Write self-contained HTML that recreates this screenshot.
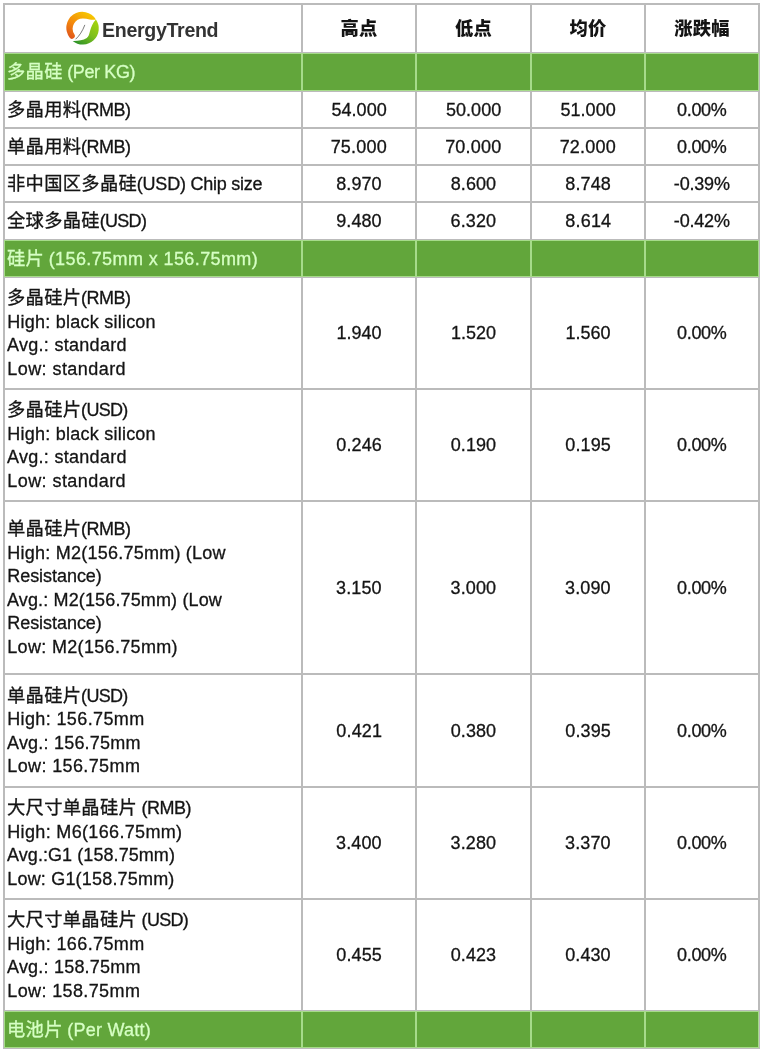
<!DOCTYPE html>
<html lang="zh-CN">
<head>
<meta charset="utf-8">
<title>EnergyTrend 价格表</title>
<style>
html,body{margin:0;padding:0;background:#fff;}
body{width:763px;height:1052px;overflow:hidden;position:relative;
  font-family:"Liberation Sans","Noto Sans CJK SC",sans-serif;font-size:18px;color:#141414;}
table{position:absolute;left:3px;top:3px;width:757px;border-collapse:separate;border-spacing:0;
  border:1px solid #bbb;table-layout:fixed;}
td{border:1px solid #bbb;padding:0;box-sizing:border-box;vertical-align:middle;overflow:hidden;}
td.n{text-align:center;}
td.t{padding-left:2px;text-align:left;}
tr.g td{background:#62a63b;border-color:#a6db8a;color:#d6ffc4;}
tr.h td{text-align:center;font-weight:900;}
tr.h .c{position:relative;top:1px;}
.l{-webkit-text-stroke:0.3px;display:block;height:23.5px;line-height:23.5px;white-space:pre;position:relative;top:1px;}
.w{display:inline-block;text-align:left;white-space:pre;}
.c{font-size:18.3px;letter-spacing:0.3px;line-height:0;}
.logo{display:block;position:relative;height:47px;}
.logo svg{position:absolute;left:55px;top:3px;}
.logo b{position:absolute;left:97px;top:13px;font:bold 19.6px/24px "Liberation Sans",sans-serif;letter-spacing:-0.32px;color:#333;}
</style>
</head>
<body>
<table>
<colgroup><col style="width:298px"><col style="width:114px"><col style="width:115px"><col style="width:114px"><col style="width:114px"></colgroup>
<tr class="h" style="height:49px"><td><span class="logo"><svg width="50" height="44" viewBox="0 0 763 671">
<defs>
<linearGradient id="og" gradientUnits="userSpaceOnUse" x1="420" y1="60" x2="150" y2="450"><stop offset="0" stop-color="#f6c400"/><stop offset="0.55" stop-color="#f48a0c"/><stop offset="1" stop-color="#e0561c"/></linearGradient>
<linearGradient id="gg" gradientUnits="userSpaceOnUse" x1="540" y1="170" x2="260" y2="540"><stop offset="0" stop-color="#a6d40e"/><stop offset="0.5" stop-color="#7cbf1c"/><stop offset="1" stop-color="#2f9428"/></linearGradient>
</defs>
<g transform="translate(350,316) scale(0.975) translate(-345,-305)"><path fill="url(#og)" d="M135.3 441.2A250 250 0 1 1 548 160C520 170 480 167 450 160C415 152 380 145 345 145A160 160 0 0 0 210.8 392.1A45 45 0 0 1 135.3 441.2Z"/>
<path fill="url(#gg)" d="M548 160A250 250 0 0 1 184 496C265 498 345 488 405 450C465 412 440 275 548 160Z"/>
<path fill="none" stroke="#444" stroke-width="11" d="M230 470Q320 390 375 245"/></g>
</svg><b>EnergyTrend</b></span></td><td><span class="c">高点</span></td><td><span class="c">低点</span></td><td><span class="c">均价</span></td><td><span class="c">涨跌幅</span></td></tr>
<tr class="g" style="height:38px"><td class="t"><span class="l"><span class="c">多晶硅</span><span style="letter-spacing:-0.39px;margin-left:-0.11px"> (Per KG)</span></span></td><td></td><td></td><td></td><td></td></tr>
<tr style="height:37px"><td class="t"><span class="l"><span class="c">多晶用料</span><span style="letter-spacing:-0.5px;margin-left:-0.25px">(RMB)</span></span></td><td class="n"><span class="l"><span class="w" style="width:56.20px"><span style="letter-spacing:0.05px;margin-left:0.5px">54.000</span></span></span></td><td class="n"><span class="l"><span class="w" style="width:56.20px"><span style="letter-spacing:0.05px;margin-left:0.5px">50.000</span></span></span></td><td class="n"><span class="l"><span class="w" style="width:56.20px"><span style="letter-spacing:0.05px;margin-left:0.5px">51.000</span></span></span></td><td class="n"><span class="l"><span class="w" style="width:50.48px"><span style="letter-spacing:-0.31px;margin-left:0.25px">0.00%</span></span></span></td></tr>
<tr style="height:37px"><td class="t"><span class="l"><span class="c">单晶用料</span><span style="letter-spacing:-0.5px;margin-left:-0.25px">(RMB)</span></span></td><td class="n"><span class="l"><span class="w" style="width:56.20px"><span style="letter-spacing:0.2px;margin-left:-0.25px">75.000</span></span></span></td><td class="n"><span class="l"><span class="w" style="width:56.20px"><span style="letter-spacing:0.2px;margin-left:-0.25px">70.000</span></span></span></td><td class="n"><span class="l"><span class="w" style="width:56.20px"><span style="letter-spacing:0.2px;margin-left:-0.25px">72.000</span></span></span></td><td class="n"><span class="l"><span class="w" style="width:50.48px"><span style="letter-spacing:-0.31px;margin-left:0.25px">0.00%</span></span></span></td></tr>
<tr style="height:37px"><td class="t"><span class="l"><span class="c">非中国区多晶硅</span><span style="letter-spacing:-0.23px;margin-left:-0.25px">(USD) Chip size</span></span></td><td class="n"><span class="l"><span class="w" style="width:45.91px"><span style="letter-spacing:0.06px;margin-left:0.25px">8.970</span></span></span></td><td class="n"><span class="l"><span class="w" style="width:45.91px"><span style="letter-spacing:0.06px;margin-left:0.25px">8.600</span></span></span></td><td class="n"><span class="l"><span class="w" style="width:45.91px"><span style="letter-spacing:0.12px;margin-left:0.25px">8.748</span></span></span></td><td class="n"><span class="l"><span class="w" style="width:56.28px"><span style="letter-spacing:-0.2px">-0.39%</span></span></span></td></tr>
<tr style="height:38px"><td class="t"><span class="l"><span class="c">全球多晶硅</span><span style="letter-spacing:-0.69px;margin-left:-0.25px">(USD)</span></span></td><td class="n"><span class="l"><span class="w" style="width:45.91px"><span style="letter-spacing:0.06px;margin-left:0.25px">9.480</span></span></span></td><td class="n"><span class="l"><span class="w" style="width:45.91px"><span style="letter-spacing:0.12px">6.320</span></span></span></td><td class="n"><span class="l"><span class="w" style="width:45.91px"><span style="letter-spacing:0.19px;margin-left:0.25px">8.614</span></span></span></td><td class="n"><span class="l"><span class="w" style="width:56.28px"><span style="letter-spacing:-0.2px">-0.42%</span></span></span></td></tr>
<tr class="g" style="height:37px"><td class="t"><span class="l"><span class="c">硅片</span><span style="letter-spacing:0.4px;margin-left:-0.9px"> (156.75mm x 156.75mm)</span></span></td><td></td><td></td><td></td><td></td></tr>
<tr style="height:112px"><td class="t"><span class="l"><span class="c">多晶硅片</span><span style="letter-spacing:-0.5px;margin-left:-0.25px">(RMB)</span></span><span class="l"><span style="letter-spacing:0.24px;margin-left:0.25px">High: black silicon</span></span><span class="l"><span style="letter-spacing:0.29px">Avg.: standard</span></span><span class="l"><span style="letter-spacing:0.44px;margin-left:0.25px">Low: standard</span></span></td><td class="n"><span class="l"><span class="w" style="width:45.91px"><span style="margin-left:0.5px">1.940</span></span></span></td><td class="n"><span class="l"><span class="w" style="width:45.91px"><span style="margin-left:0.5px">1.520</span></span></span></td><td class="n"><span class="l"><span class="w" style="width:45.91px"><span style="margin-left:0.5px">1.560</span></span></span></td><td class="n"><span class="l"><span class="w" style="width:50.48px"><span style="letter-spacing:-0.31px;margin-left:0.25px">0.00%</span></span></span></td></tr>
<tr style="height:112px"><td class="t"><span class="l"><span class="c">多晶硅片</span><span style="letter-spacing:-0.69px;margin-left:-0.25px">(USD)</span></span><span class="l"><span style="letter-spacing:0.24px;margin-left:0.25px">High: black silicon</span></span><span class="l"><span style="letter-spacing:0.29px">Avg.: standard</span></span><span class="l"><span style="letter-spacing:0.44px;margin-left:0.25px">Low: standard</span></span></td><td class="n"><span class="l"><span class="w" style="width:45.91px"><span style="letter-spacing:0.12px;margin-left:0.25px">0.246</span></span></span></td><td class="n"><span class="l"><span class="w" style="width:45.91px"><span style="letter-spacing:0.06px;margin-left:0.25px">0.190</span></span></span></td><td class="n"><span class="l"><span class="w" style="width:45.91px"><span style="letter-spacing:0.12px;margin-left:0.25px">0.195</span></span></span></td><td class="n"><span class="l"><span class="w" style="width:50.48px"><span style="letter-spacing:-0.31px;margin-left:0.25px">0.00%</span></span></span></td></tr>
<tr style="height:173px"><td class="t"><span class="l"><span class="c">单晶硅片</span><span style="letter-spacing:-0.5px;margin-left:-0.25px">(RMB)</span></span><span class="l"><span style="letter-spacing:0.24px;margin-left:0.25px">High: M2(156.75mm) (Low</span></span><span class="l"><span style="letter-spacing:-0.05px;margin-left:0.25px">Resistance)</span></span><span class="l"><span style="letter-spacing:0.14px">Avg.: M2(156.75mm) (Low</span></span><span class="l"><span style="letter-spacing:-0.05px;margin-left:0.25px">Resistance)</span></span><span class="l"><span style="letter-spacing:0.33px;margin-left:0.25px">Low: M2(156.75mm)</span></span></td><td class="n"><span class="l"><span class="w" style="width:45.91px"><span style="letter-spacing:0.12px">3.150</span></span></span></td><td class="n"><span class="l"><span class="w" style="width:45.91px"><span style="letter-spacing:0.12px">3.000</span></span></span></td><td class="n"><span class="l"><span class="w" style="width:45.91px"><span style="letter-spacing:0.12px">3.090</span></span></span></td><td class="n"><span class="l"><span class="w" style="width:50.48px"><span style="letter-spacing:-0.31px;margin-left:0.25px">0.00%</span></span></span></td></tr>
<tr style="height:113px"><td class="t"><span class="l"><span class="c">单晶硅片</span><span style="letter-spacing:-0.69px;margin-left:-0.25px">(USD)</span></span><span class="l"><span style="letter-spacing:0.37px;margin-left:0.25px">High: 156.75mm</span></span><span class="l"><span style="letter-spacing:0.21px">Avg.: 156.75mm</span></span><span class="l"><span style="letter-spacing:0.38px;margin-left:0.25px">Low: 156.75mm</span></span></td><td class="n"><span class="l"><span class="w" style="width:45.91px"><span style="letter-spacing:0.17px;margin-left:0.25px">0.421</span></span></span></td><td class="n"><span class="l"><span class="w" style="width:45.91px"><span style="letter-spacing:0.06px;margin-left:0.25px">0.380</span></span></span></td><td class="n"><span class="l"><span class="w" style="width:45.91px"><span style="letter-spacing:0.12px;margin-left:0.25px">0.395</span></span></span></td><td class="n"><span class="l"><span class="w" style="width:50.48px"><span style="letter-spacing:-0.31px;margin-left:0.25px">0.00%</span></span></span></td></tr>
<tr style="height:112px"><td class="t"><span class="l"><span class="c">大尺寸单晶硅片</span><span style="letter-spacing:-0.5px"> (RMB)</span></span><span class="l"><span style="letter-spacing:0.34px;margin-left:0.25px">High: M6(166.75mm)</span></span><span class="l"><span style="letter-spacing:0.07px">Avg.:G1 (158.75mm)</span></span><span class="l"><span style="letter-spacing:0.19px;margin-left:0.25px">Low: G1(158.75mm)</span></span></td><td class="n"><span class="l"><span class="w" style="width:45.91px"><span style="letter-spacing:0.12px">3.400</span></span></span></td><td class="n"><span class="l"><span class="w" style="width:45.91px"><span style="letter-spacing:0.12px">3.280</span></span></span></td><td class="n"><span class="l"><span class="w" style="width:45.91px"><span style="letter-spacing:0.12px">3.370</span></span></span></td><td class="n"><span class="l"><span class="w" style="width:50.48px"><span style="letter-spacing:-0.31px;margin-left:0.25px">0.00%</span></span></span></td></tr>
<tr style="height:112px"><td class="t"><span class="l"><span class="c">大尺寸单晶硅片</span><span style="letter-spacing:-0.69px;margin-left:0.19px"> (USD)</span></span><span class="l"><span style="letter-spacing:0.37px;margin-left:0.25px">High: 166.75mm</span></span><span class="l"><span style="letter-spacing:0.21px">Avg.: 158.75mm</span></span><span class="l"><span style="letter-spacing:0.38px;margin-left:0.25px">Low: 158.75mm</span></span></td><td class="n"><span class="l"><span class="w" style="width:45.91px"><span style="letter-spacing:0.12px;margin-left:0.25px">0.455</span></span></span></td><td class="n"><span class="l"><span class="w" style="width:45.91px"><span style="letter-spacing:0.06px;margin-left:0.25px">0.423</span></span></span></td><td class="n"><span class="l"><span class="w" style="width:45.91px"><span style="letter-spacing:0.06px;margin-left:0.25px">0.430</span></span></span></td><td class="n"><span class="l"><span class="w" style="width:50.48px"><span style="letter-spacing:-0.31px;margin-left:0.25px">0.00%</span></span></span></td></tr>
<tr class="g" style="height:37px"><td class="t"><span class="l"><span class="c">电池片</span><span style="letter-spacing:0.25px;margin-left:-0.75px"> (Per Watt)</span></span></td><td></td><td></td><td></td><td></td></tr>
</table>
</body>
</html>
